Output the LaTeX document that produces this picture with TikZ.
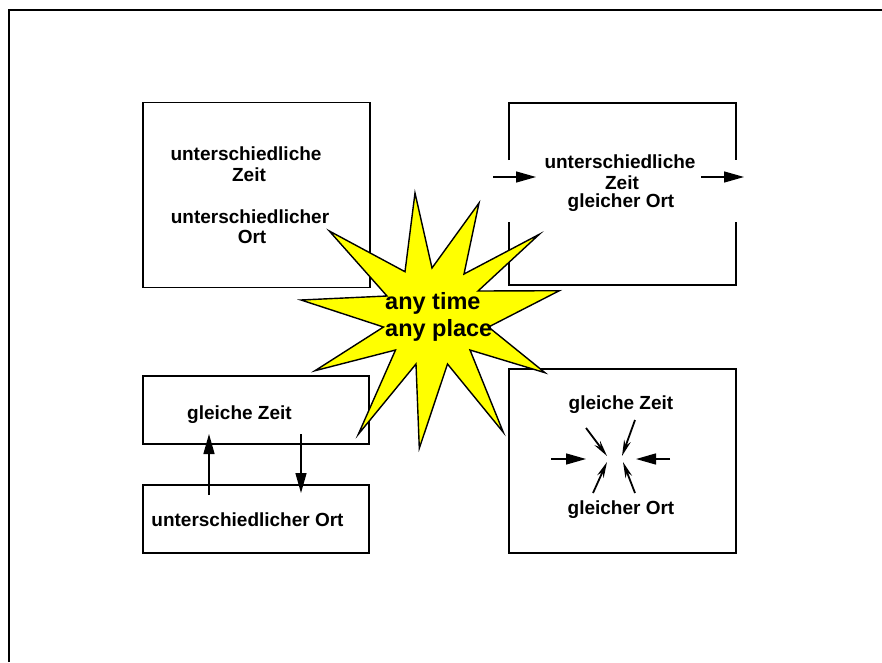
\documentclass[tikz,border=0pt]{standalone}
\usepackage{fontspec}
\setmainfont{Liberation Sans}
\usetikzlibrary{arrows.meta}
\definecolor{staryellow}{RGB}{255,255,0}
\tikzset{
  frameline/.style={line width=2pt, black},
  boxline/.style={line width=1.8pt, black},
  txt/.style={font=\bfseries\fontsize{19}{20}\selectfont, inner sep=0pt, anchor=base},
  startxt/.style={font=\bfseries\fontsize{23.5}{27}\selectfont, inner sep=0pt, anchor=base west},
  flow/.style={line width=1.4pt, -{Triangle[length=20pt,width=11pt]}},
  focus/.style={line width=1.8pt, -{Stealth[length=16pt,width=7pt,inset=5pt]}}
}
\begin{document}
\begin{tikzpicture}[x=1pt,y=-1pt]
  \useasboundingbox (0,0) rectangle (882,662);

  % outer frame (top and left edges only)
  \draw[frameline] (9,662) -- (9,10) -- (882,10);

  % box: different time, different place
  \node[draw, boxline, minimum width=227pt, minimum height=185pt, inner sep=0pt]
    (diffdiff) at (256.5,195) {};
  \node[txt] (dd1) at (246,160.7) {unterschiedliche};
  \node[txt] (dd2) at (249,181.7) {Zeit};
  \node[txt] (dd3) at (250,223.3) {unterschiedlicher};
  \node[txt] (dd4) at (252,243.3) {Ort};

  % box: different time, same place (open sides)
  \coordinate (tlA) at (509,160);
  \coordinate (tlB) at (509,222);
  \coordinate (trA) at (736,160);
  \coordinate (trB) at (736,222);
  \draw[boxline] (tlA) -- (509,103) -- (736,103) -- (trA);
  \draw[boxline] (tlB) -- (509,285) -- (736,285) -- (trB);
  \node[txt] (ds1) at (620,168.7) {unterschiedliche};
  \node[txt] (ds2) at (622,189.3) {Zeit};
  \node[txt] (ds3) at (621,207.8) {gleicher Ort};
  \coordinate (inS) at (493,177);
  \coordinate (inE) at (536,177);
  \coordinate (outS) at (701,177);
  \coordinate (outE) at (744,177);
  \draw[flow] (inS) -- (inE);
  \draw[flow] (outS) -- (outE);

  % boxes: same time, different place
  \node[draw, boxline, minimum width=226pt, minimum height=68pt, inner sep=0pt]
    (sametime) at (256,410) {};
  \node[draw, boxline, minimum width=226pt, minimum height=68pt, inner sep=0pt]
    (diffplace) at (256,519) {};
  \node[txt] (st) at (239.5,419.3) {gleiche Zeit};
  \node[txt] (dp) at (247.5,526.7) {unterschiedlicher Ort};
  \coordinate (upS) at (209,495);
  \coordinate (upE) at (209,434);
  \coordinate (dnS) at (301,434);
  \coordinate (dnE) at (301,493);
  \draw[flow] (upS) -- (upE);
  \draw[flow] (dnS) -- (dnE);

  % box: same time, same place
  \node[draw, boxline, minimum width=227pt, minimum height=184pt, inner sep=0pt]
    (samesame) at (622.5,461) {};
  \node[txt] (ss1) at (621,409.3) {gleiche Zeit};
  \node[txt] (ss2) at (621,514) {gleicher Ort};
  \coordinate (hL1) at (551,459);
  \coordinate (hL2) at (586,459);
  \coordinate (hR1) at (670,459);
  \coordinate (hR2) at (636,459);
  \coordinate (dUL1) at (586,428);
  \coordinate (dUL2) at (607,456);
  \coordinate (dUR1) at (635,420);
  \coordinate (dUR2) at (622,456);
  \coordinate (dLL1) at (593,493);
  \coordinate (dLL2) at (607,462);
  \coordinate (dLR1) at (635,493);
  \coordinate (dLR2) at (623,462);
  \draw[flow] (hL1) -- (hL2);
  \draw[flow] (hR1) -- (hR2);
  \draw[focus] (dUL1) -- (dUL2);
  \draw[focus] (dUR1) -- (dUR2);
  \draw[focus] (dLL1) -- (dLL2);
  \draw[focus] (dLR1) -- (dLR2);

  % the "any time, any place" burst
  \draw[fill=staryellow, line width=1.4pt, line join=miter]
    (415,193) -- (432,268) -- (479,203) -- (464,274) -- (539.3,234.3)
    -- (478,291) -- (559.3,290.7) -- (488.5,327) -- (545,372.7)
    -- (470,350) -- (503.3,432.3) -- (447.5,364) -- (419.3,448.3)
    -- (416,364) -- (358.3,434.3) -- (395.5,350) -- (315,370.7)
    -- (383.5,327) -- (301,300) -- (387,296) -- (329.3,231)
    -- (405,271.7) -- cycle;
  \node[startxt] (any1) at (385,309) {any time};
  \node[startxt] (any2) at (385,336.7) {any place};
\end{tikzpicture}
\end{document}
